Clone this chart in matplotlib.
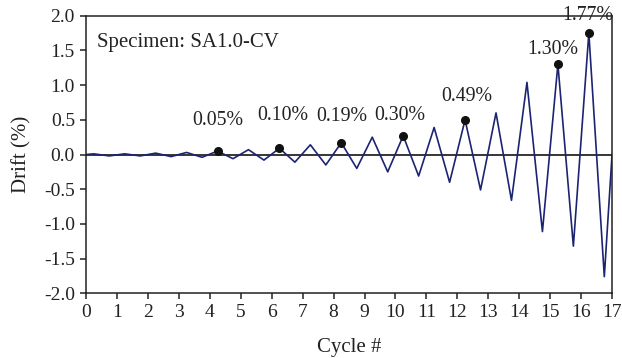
import numpy as np
import matplotlib
matplotlib.use("Agg")
from matplotlib import pyplot as plt

plt.rcParams['font.family'] = ['Liberation Serif', 'DejaVu Serif']

# drift history, peaks at k+0.25 and troughs at k+0.75
cycle = [0, 0.25, 0.75, 1.25, 1.75, 2.25, 2.75, 3.25, 3.75, 4.25, 4.75,
         5.25, 5.75, 6.25, 6.75, 7.25, 7.75, 8.25, 8.75, 9.25, 9.75,
         10.25, 10.75, 11.25, 11.75, 12.25, 12.75, 13.25, 13.75, 14.25, 14.75,
         15.25, 15.75, 16.25, 16.75, 17]
drift = [0, 0.01, -0.02, 0.01, -0.02, 0.02, -0.03, 0.03, -0.04, 0.05, -0.06,
         0.07, -0.08, 0.09, -0.11, 0.14, -0.15, 0.17, -0.20, 0.25, -0.25,
         0.27, -0.31, 0.39, -0.40, 0.50, -0.51, 0.60, -0.66, 1.04, -1.11,
         1.30, -1.32, 1.75, -1.76, 0.0]

# marked peaks and their labels
peak_x = [4.25, 6.25, 8.25, 10.25, 12.25, 15.25, 16.25]
peak_y = [0.05, 0.09, 0.17, 0.27, 0.50, 1.30, 1.75]
peak_lbl = ["0.05%", "0.10%", "0.19%", "0.30%", "0.49%", "1.30%", "1.77%"]
lbl_x = [4.27, 6.37, 8.28, 10.15, 12.3, 15.1, 16.2]
lbl_y = [0.49, 0.56, 0.55, 0.56, 0.83, 1.51, 2.0]

fig = plt.figure(figsize=(6.22, 3.58), dpi=100)
ax = fig.add_axes([0.1383, 0.1807, 0.8457, 0.7753])

ax.axhline(0, color='black', lw=1.1, zorder=1)
ax.plot(cycle, drift, color='#1c2472', lw=1.2, zorder=2)
ax.plot(peak_x, peak_y, 'o', color='#111111', ms=5.5, zorder=3)
for x, y, s in zip(lbl_x, lbl_y, peak_lbl):
    ax.text(x, y, s, ha='center', va='center', fontsize=14.3, color='#222222')

ax.text(0.36, 1.62, "Specimen: SA1.0-CV", ha='left', va='center', fontsize=15,
        color='#222222')

ax.set_xlim(0, 17)
ax.set_ylim(-2, 2)
ax.set_xticks(np.arange(0, 18, 1))
ax.set_yticks(np.arange(-2, 2.01, 0.5))
ax.set_yticklabels(["%.1f" % v for v in np.arange(-2, 2.01, 0.5)])
ax.tick_params(direction='out', length=4.5, width=1.1, labelsize=14,
               colors='#222222', pad=3.5)
for sp in ax.spines.values():
    sp.set_linewidth(1.1)
    sp.set_color('#222222')

ax.set_xlabel("Cycle #", fontsize=15, color='#222222', labelpad=12)
ax.set_ylabel("Drift (%)", fontsize=15, color='#222222', labelpad=9)

plt.savefig("out.png", dpi=100)
